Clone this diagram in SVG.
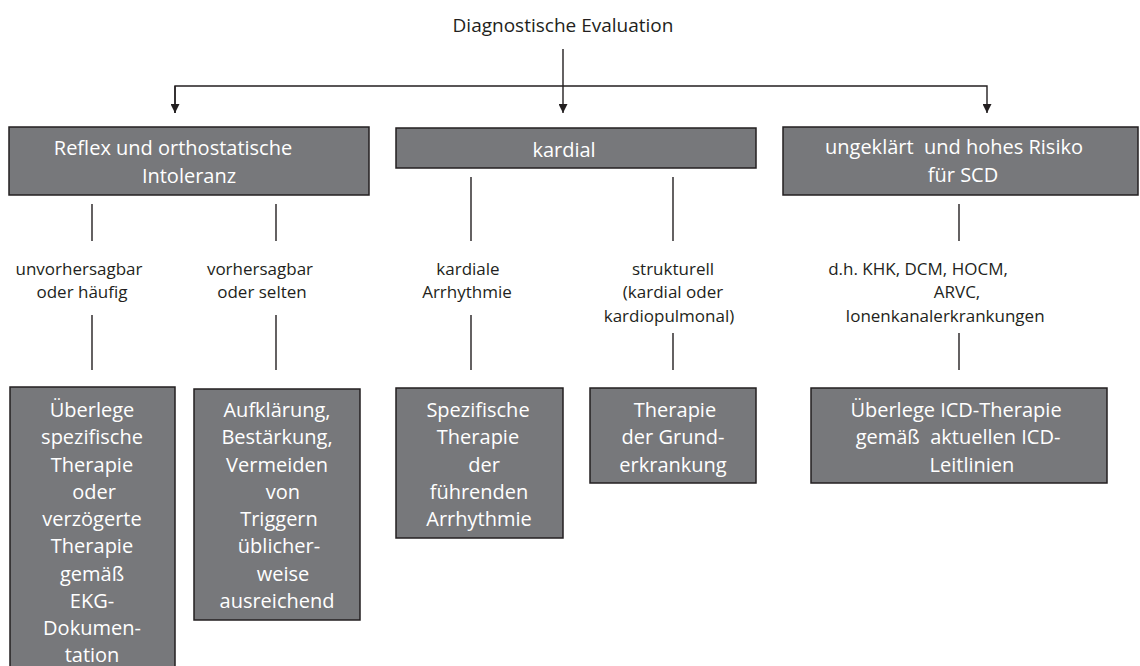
<svg xmlns="http://www.w3.org/2000/svg" width="1140" height="666" viewBox="0 0 1140 666">
  <style>
    text { font-family: "Open Sans", "Noto Sans", "DejaVu Sans", sans-serif; text-anchor: middle; }
    .title { font-size: 19px; fill: #231f20; }
    .box rect { fill: #77787b; stroke: #231f20; stroke-width: 1.5; }
    .box text { font-size: 20px; fill: #ffffff; }
    .label { font-size: 17px; fill: #231f20; }
    .conn line, .conn path { stroke: #231f20; stroke-width: 1.4; fill: none; }
  </style>
  <defs>
    <marker id="arrow" markerWidth="10" markerHeight="9" refX="9" refY="4.5" orient="auto" markerUnits="userSpaceOnUse">
      <path d="M0,0 L9,4.5 L0,9 Z" fill="#231f20"/>
    </marker>
  </defs>

  <!-- root -->
  <g id="root">
    <text class="title" x="563" y="32">Diagnostische Evaluation</text>
  </g>

  <!-- connectors -->
  <g class="conn" id="connectors">
    <line x1="563" y1="49" x2="563" y2="113" marker-end="url(#arrow)"/>
    <path d="M175,113 L175,86 L987,86 L987,113" marker-end="url(#arrow)"/>
    <line x1="175" y1="86" x2="175" y2="113" marker-end="url(#arrow)"/>
    <!-- reflex branch -->
    <line x1="92" y1="204" x2="92" y2="241"/>
    <line x1="92" y1="315" x2="92" y2="370"/>
    <line x1="276" y1="204" x2="276" y2="241"/>
    <line x1="276" y1="315" x2="276" y2="370"/>
    <!-- cardiac branch -->
    <line x1="471" y1="177" x2="471" y2="241"/>
    <line x1="471" y1="315" x2="471" y2="370"/>
    <line x1="673" y1="177" x2="673" y2="241"/>
    <line x1="673" y1="333" x2="673" y2="370"/>
    <!-- unexplained / high risk branch -->
    <line x1="959" y1="204" x2="959" y2="241"/>
    <line x1="959" y1="333" x2="959" y2="370"/>
  </g>

  <!-- top level categories -->
  <g class="box" id="reflex">
    <rect x="9" y="127" width="360" height="68"/>
    <text x="173" y="155">Reflex und orthostatische</text>
    <text x="189" y="183">Intoleranz</text>
  </g>
  <g class="box" id="kardial">
    <rect x="396" y="128" width="360" height="40"/>
    <text x="564" y="157">kardial</text>
  </g>
  <g class="box" id="ungeklaert">
    <rect x="783" y="127" width="355" height="68"/>
    <text x="954" y="154" xml:space="preserve">ungeklärt  und hohes Risiko</text>
    <text x="963" y="182">für SCD</text>
  </g>

  <!-- intermediate labels -->
  <g id="label-unvorhersagbar" class="label">
    <text class="label" x="79" y="275">unvorhersagbar</text>
    <text class="label" x="82" y="298">oder häufig</text>
  </g>
  <g id="label-vorhersagbar">
    <text class="label" x="260" y="275">vorhersagbar</text>
    <text class="label" x="262" y="298">oder selten</text>
  </g>
  <g id="label-arrhythmie">
    <text class="label" x="468" y="275">kardiale</text>
    <text class="label" x="467" y="298">Arrhythmie</text>
  </g>
  <g id="label-strukturell">
    <text class="label" x="673" y="275">strukturell</text>
    <text class="label" x="673" y="298">(kardial oder</text>
    <text class="label" x="669" y="322">kardiopulmonal)</text>
  </g>
  <g id="label-scd">
    <text class="label" x="918" y="275">d.h. KHK, DCM, HOCM,</text>
    <text class="label" x="957" y="298">ARVC,</text>
    <text class="label" x="945" y="322">Ionenkanalerkrankungen</text>
  </g>

  <!-- therapy boxes -->
  <g class="box" id="therapie-reflex-haeufig">
    <rect x="10" y="387" width="165" height="290"/>
    <text x="92" y="417">Überlege</text>
    <text x="92" y="444">spezifische</text>
    <text x="92" y="472">Therapie</text>
    <text x="94" y="499">oder</text>
    <text x="92" y="526">verzögerte</text>
    <text x="92" y="553">Therapie</text>
    <text x="92" y="581">gemäß</text>
    <text x="92" y="608">EKG-</text>
    <text x="92" y="635">Dokumen-</text>
    <text x="92" y="662">tation</text>
  </g>
  <g class="box" id="therapie-reflex-selten">
    <rect x="194" y="389" width="166" height="231"/>
    <text x="277" y="417">Aufklärung,</text>
    <text x="277" y="444">Bestärkung,</text>
    <text x="277" y="472">Vermeiden</text>
    <text x="283" y="499">von</text>
    <text x="279" y="526">Triggern</text>
    <text x="279" y="553">üblicher-</text>
    <text x="283" y="581">weise</text>
    <text x="277" y="608">ausreichend</text>
  </g>
  <g class="box" id="therapie-arrhythmie">
    <rect x="396" y="388" width="167" height="150"/>
    <text x="478" y="417">Spezifische</text>
    <text x="478" y="444">Therapie</text>
    <text x="484" y="472">der</text>
    <text x="479" y="499">führenden</text>
    <text x="479" y="526">Arrhythmie</text>
  </g>
  <g class="box" id="therapie-strukturell">
    <rect x="590" y="388" width="166" height="95"/>
    <text x="675" y="417">Therapie</text>
    <text x="673" y="444">der Grund-</text>
    <text x="673" y="472">erkrankung</text>
  </g>
  <g class="box" id="therapie-icd">
    <rect x="811" y="388" width="296" height="95"/>
    <text x="956" y="417">Überlege ICD-Therapie</text>
    <text x="958" y="444" xml:space="preserve">gemäß  aktuellen ICD-</text>
    <text x="972" y="472">Leitlinien</text>
  </g>
</svg>
